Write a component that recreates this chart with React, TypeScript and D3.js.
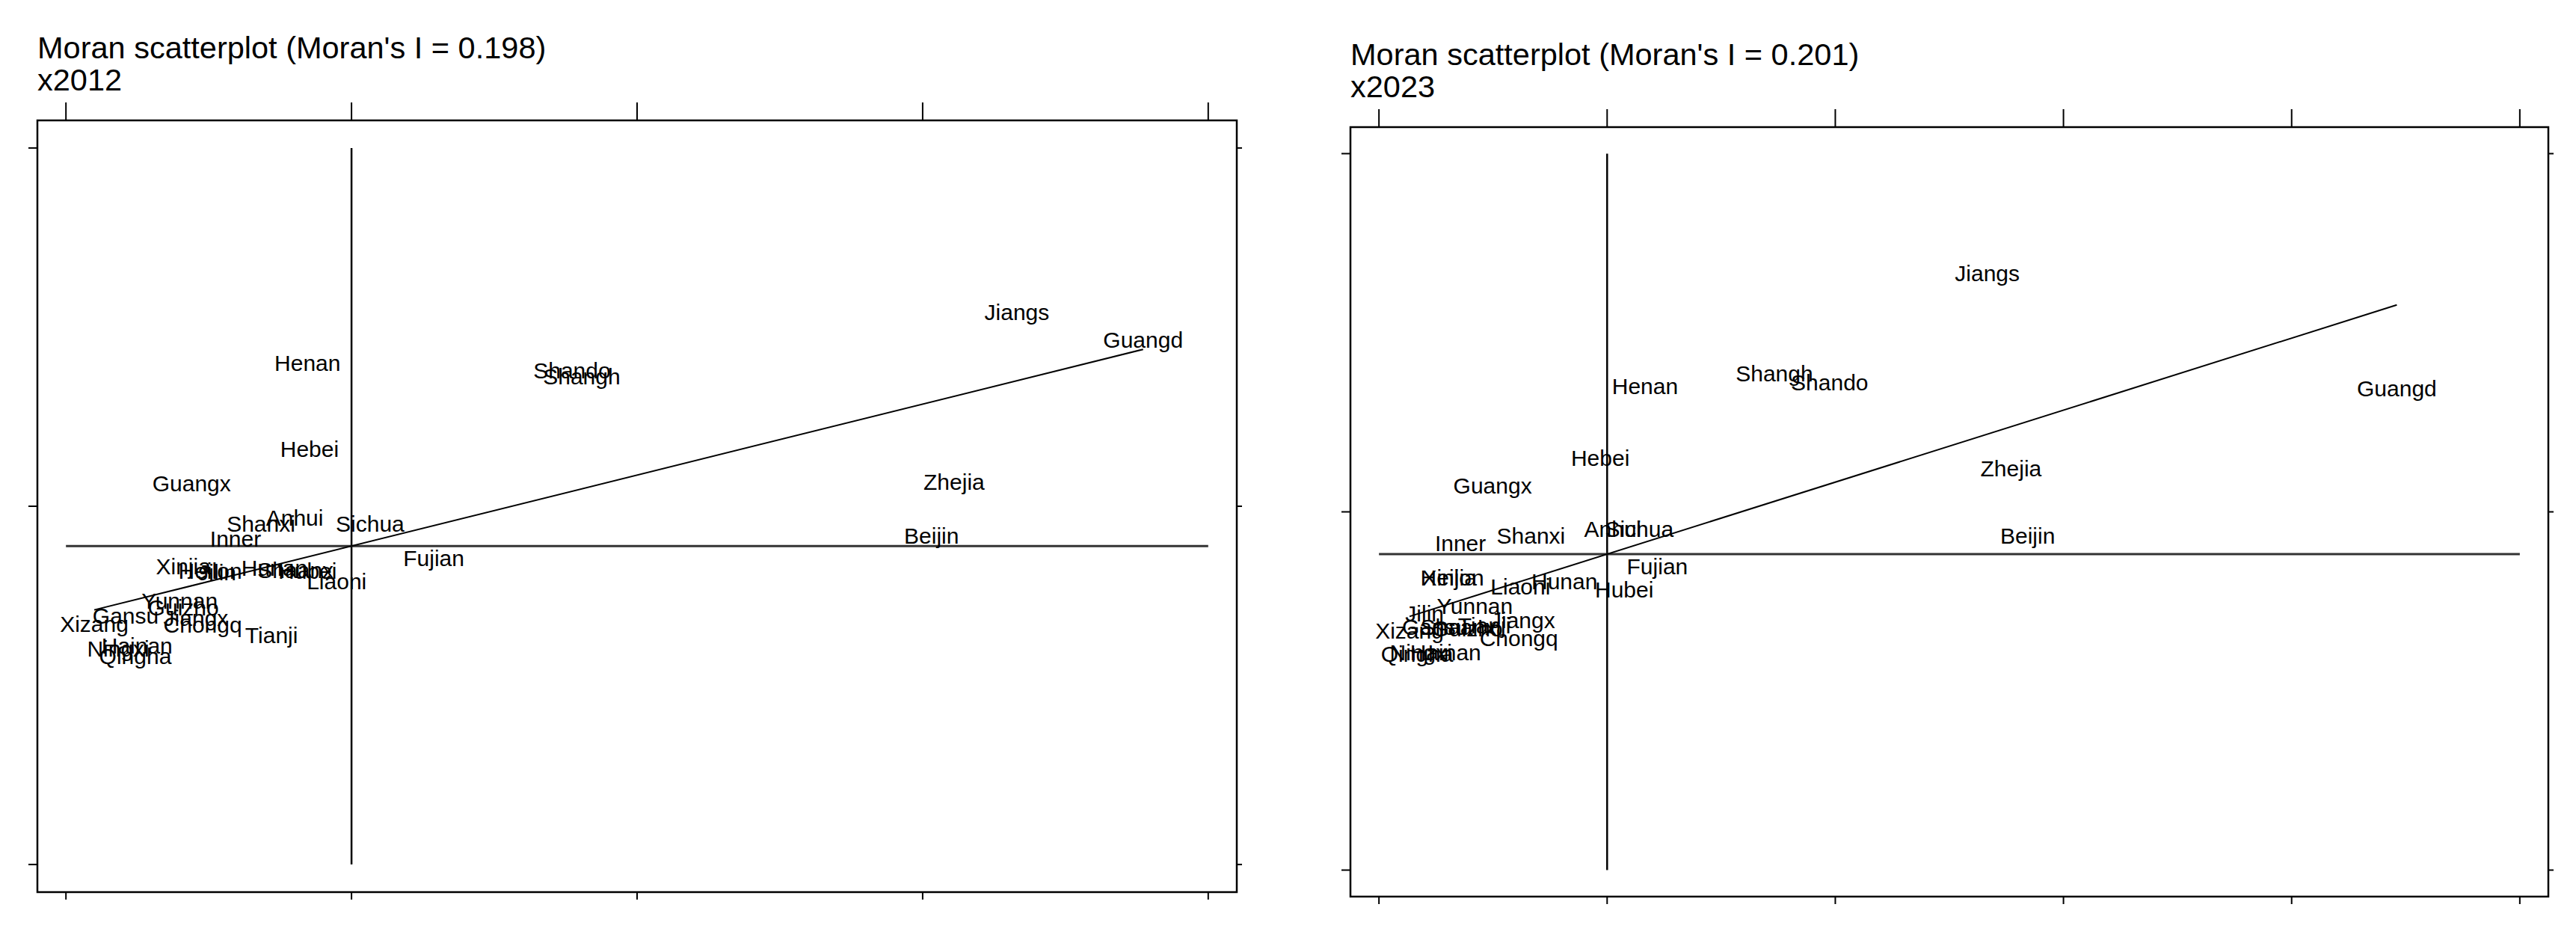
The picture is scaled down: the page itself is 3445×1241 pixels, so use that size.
import React from 'react'
import * as d3 from 'd3'

// province labels (first six letters, as in the source plot)
const provinces = ['Beijin', 'Tianji', 'Hebei', 'Shanxi', 'Inner', 'Liaoni', 'Jilin', 'Heilon', 'Shangh', 'Jiangs',
  'Zhejia', 'Anhui', 'Fujian', 'Jiangx', 'Shando', 'Henan', 'Hubei', 'Hunan', 'Guangd', 'Guangx', 'Hainan',
  'Chongq', 'Sichua', 'Guizho', 'Yunnan', 'Xizang', 'Shaanx', 'Gansu', 'Qingha', 'Ningxi', 'Xinjia']

// standardized value and its spatial lag, 2012
const x2012 = [2.031, -0.280, -0.147, -0.317, -0.406, -0.052, -0.471, -0.495, 0.806, 2.330,
  2.110, -0.199, 0.288, -0.545, 0.772, -0.154, -0.154, -0.270, 2.772, -0.560, -0.751,
  -0.521, 0.065, -0.589, -0.602, -0.901, -0.196, -0.791, -0.757, -0.817, -0.589]
const lag2012 = [-0.081, -0.359, 0.161, -0.048, -0.090, -0.209, -0.184, -0.179, 0.363, 0.542,
  0.069, -0.031, -0.144, -0.311, 0.380, 0.401, -0.179, -0.171, 0.465, 0.065, -0.388,
  -0.330, -0.048, -0.282, -0.263, -0.328, -0.177, -0.305, -0.417, -0.398, -0.167]

// 2023
const x2023 = [1.843, -0.538, -0.030, -0.334, -0.643, -0.380, -0.800, -0.679, 0.733, 1.666,
  1.770, 0.025, 0.220, -0.370, 0.975, 0.166, 0.075, -0.187, 3.461, -0.502, -0.708,
  -0.387, 0.141, -0.613, -0.580, -0.866, -0.652, -0.754, -0.833, -0.816, -0.692]
const lag2023 = [-0.067, -0.317, 0.150, -0.067, -0.088, -0.209, -0.284, -0.184, 0.386, 0.666,
  0.121, -0.048, -0.152, -0.303, 0.361, 0.351, -0.217, -0.194, 0.346, 0.073, -0.392,
  -0.353, -0.048, -0.325, -0.263, -0.332, -0.321, -0.321, -0.396, -0.392, -0.184]

const moranI2012 = 0.198
const moranI2023 = 0.201
const lagMean2012 = -0.111
const lagMean2023 = -0.118

const xTicks2012 = [-1, 0, 1, 2, 3]
const xTicks2023 = [-1, 0, 1, 2, 3, 4]
const yTicks = [-1, 0, 1]

const FONT = "'Liberation Sans', Arial, Helvetica, sans-serif"

function Panel({ left, top, width, height, xDomain, yDomain, xTicks, xs, ys, ybar, moranI, year }) {
  const x = d3.scaleLinear().domain(xDomain).range([left, left + width])
  const y = d3.scaleLinear().domain(yDomain).range([top + height, top])
  const right = left + width
  const bottom = top + height

  // regression line through (0, mean lag) with slope = Moran's I, over the data range
  const xmin = d3.min(xs)
  const xmax = d3.max(xs)
  const fit = v => ybar + moranI * v
  const line = d3.line().x(d => x(d[0])).y(d => y(d[1]))

  const xt0 = d3.min(xTicks), xt1 = d3.max(xTicks)
  const yt0 = d3.min(yTicks), yt1 = d3.max(yTicks)

  return (
    <g>
      <text x={left} y={top - 83} fontFamily={FONT} fontSize={41.5} fill="#000">
        {`Moran scatterplot (Moran's I = ${moranI.toFixed(3)})`}
      </text>
      <text x={left} y={top - 40} fontFamily={FONT} fontSize={41.5} fill="#000">{`x${year}`}</text>

      {/* ticks on all four sides */}
      <g stroke="#000" strokeWidth={2}>
        {xTicks.map(t => (
          <g key={'x' + t}>
            <line x1={x(t)} x2={x(t)} y1={top} y2={top - 24} />
            <line x1={x(t)} x2={x(t)} y1={bottom} y2={bottom + 10} />
          </g>
        ))}
        {yTicks.map(t => (
          <g key={'y' + t}>
            <line x1={left} x2={left - 12} y1={y(t)} y2={y(t)} />
            <line x1={right} x2={right + 7} y1={y(t)} y2={y(t)} />
          </g>
        ))}
      </g>

      {/* mean lines */}
      <line x1={x(0)} x2={x(0)} y1={y(yt1)} y2={y(yt0)} stroke="#000" strokeWidth={2.5} />
      <line x1={x(xt0)} x2={x(xt1)} y1={y(ybar)} y2={y(ybar)} stroke="#333" strokeWidth={3} />

      <path d={line([[xmin, fit(xmin)], [xmax, fit(xmax)]])} fill="none" stroke="#000" strokeWidth={2} />

      <g fontFamily={FONT} fontSize={30} fill="#000" textAnchor="middle">
        {provinces.map((p, i) => (
          <text key={p} x={x(xs[i])} y={y(ys[i])} dy="0.36em">{p}</text>
        ))}
      </g>

      <rect x={left} y={top} width={width} height={height} fill="none" stroke="#000" strokeWidth={2.5} />
    </g>
  )
}

export default function App() {
  return (
    <svg width={3445} height={1241} style={{ position: 'absolute', left: 0, top: 0, background: '#fff' }}>
      <rect width={3445} height={1241} fill="#fff" />
      <Panel left={50} top={161} width={1604} height={1032}
        xDomain={[-1.1, 3.1]} yDomain={[-1.077, 1.077]} xTicks={xTicks2012}
        xs={x2012} ys={lag2012} ybar={lagMean2012} moranI={moranI2012} year={2012} />
      <Panel left={1806} top={170} width={1602} height={1029}
        xDomain={[-1.125, 4.125]} yDomain={[-1.074, 1.074]} xTicks={xTicks2023}
        xs={x2023} ys={lag2023} ybar={lagMean2023} moranI={moranI2023} year={2023} />
    </svg>
  )
}
